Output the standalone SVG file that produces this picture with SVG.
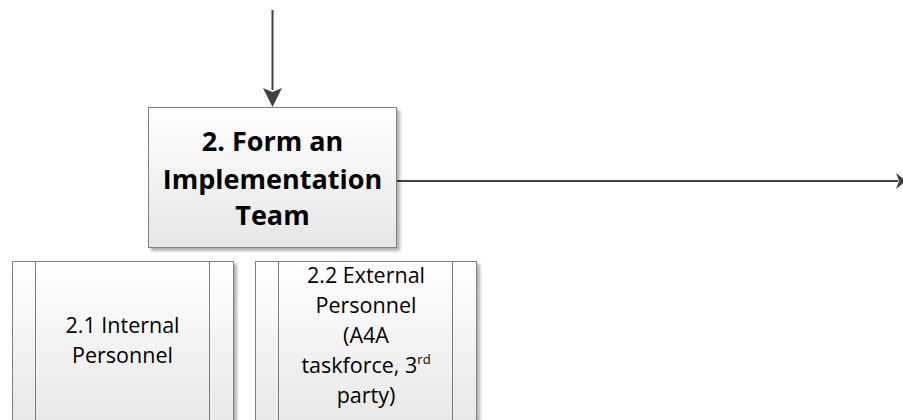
<svg xmlns="http://www.w3.org/2000/svg" width="903" height="420" viewBox="0 0 903 420">
<style>
.t{font-family:"Open Sans","Liberation Sans",sans-serif;fill:#000;text-anchor:middle}
.m{font-size:27px;font-weight:bold}
.s{font-size:21.5px}
.box{stroke:#7f7f7f;stroke-width:1}
.ln{stroke:#7f7f7f;stroke-width:1}
.c{stroke:#404040;stroke-width:2;fill:none}
</style>
<defs>
<linearGradient id="g" x1="0" y1="0" x2="0" y2="1">
<stop offset="0" stop-color="#ffffff"/>
<stop offset="1" stop-color="#e6e6e6"/>
</linearGradient>
<filter id="sh" x="-10%" y="-10%" width="130%" height="130%">
<feGaussianBlur in="SourceAlpha" stdDeviation="1.5"/>
<feOffset dx="3" dy="3"/>
<feComponentTransfer><feFuncA type="linear" slope="0.3"/></feComponentTransfer>
<feMerge><feMergeNode/><feMergeNode in="SourceGraphic"/></feMerge>
</filter>
</defs>
<g id="connectors">
<line class="c" x1="272.5" y1="10" x2="272.5" y2="90"/>
<path d="M263,88 L272.5,107 L282,88 L272.5,92 Z" fill="#404040"/>
<line class="c" x1="397" y1="181" x2="898" y2="181"/>
<path d="M896,173 L906,181 L896,189 L899,181 Z" fill="#404040"/>
</g>
<g id="node-2">
<rect class="box" x="148.5" y="107.5" width="248" height="140" fill="url(#g)" filter="url(#sh)"/>
<text class="t m" x="272.5" y="151">2. Form an</text>
<text class="t m" x="272.5" y="189">Implementation</text>
<text class="t m" x="272.5" y="225">Team</text>
</g>
<g id="node-2-1">
<rect class="box" x="12.5" y="261.5" width="221" height="170" fill="url(#g)" filter="url(#sh)"/>
<line class="ln" x1="35.5" y1="261.5" x2="35.5" y2="420"/>
<line class="ln" x1="209.5" y1="261.5" x2="209.5" y2="420"/>
<text class="t s" x="122.5" y="333">2.1 Internal</text>
<text class="t s" x="122.5" y="363">Personnel</text>
</g>
<g id="node-2-2">
<rect class="box" x="255.5" y="261.5" width="221" height="170" fill="url(#g)" filter="url(#sh)"/>
<line class="ln" x1="278.5" y1="261.5" x2="278.5" y2="420"/>
<line class="ln" x1="452.5" y1="261.5" x2="452.5" y2="420"/>
<text class="t s" x="366" y="283">2.2 External</text>
<text class="t s" x="366" y="313">Personnel</text>
<text class="t s" x="366" y="343">(A4A</text>
<text class="t s" x="366" y="373">taskforce, 3<tspan font-size="13" dy="-9">rd</tspan></text>
<text class="t s" x="366" y="403">party)</text>
</g>
</svg>
